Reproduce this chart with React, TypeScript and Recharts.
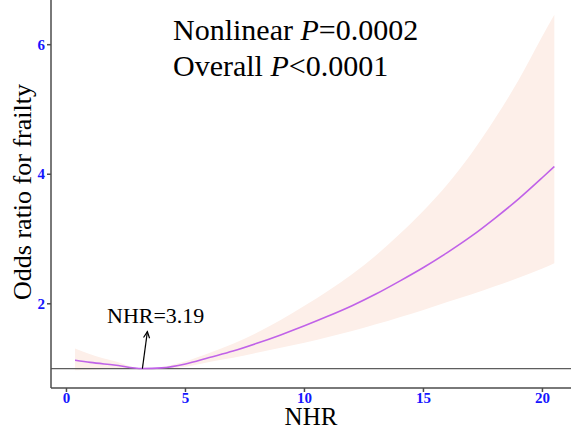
import React from "react";
import { ComposedChart, Area, Line, XAxis, YAxis, ReferenceLine } from "recharts";

// values
const nhr = [0.36, 1, 2, 3.19, 4, 5, 6, 7, 8, 9, 10, 11, 12, 13, 14, 15, 16, 17, 18, 19, 20, 20.5];
const oddsRatio = [1.13, 1.095, 1.055, 1.0, 1.01, 1.07, 1.17, 1.27, 1.39, 1.52, 1.66, 1.81, 1.97, 2.15, 2.35, 2.56, 2.79, 3.04, 3.32, 3.62, 3.95, 4.12];
const lowerCI = [0.973, 0.981, 0.999, 1.0, 0.995, 1.028, 1.102, 1.167, 1.245, 1.321, 1.4, 1.489, 1.581, 1.683, 1.794, 1.906, 2.026, 2.142, 2.27, 2.402, 2.544, 2.627];
const upperCI = [1.31, 1.222, 1.115, 1.0, 1.025, 1.114, 1.242, 1.383, 1.552, 1.749, 1.968, 2.2, 2.455, 2.747, 3.078, 3.438, 3.842, 4.314, 4.855, 5.455, 6.133, 6.462];
const xTicks = [0, 5, 10, 15, 20];
const yTicks = [2, 4, 6];
const refNhr = 3.19;
const arrowTip = { x: 3.4, y: 1.57 };

const data = nhr.map((x, i) => ({ nhr: x, or: oddsRatio[i], ci: [lowerCI[i], upperCI[i]] }));

const SERIF = '"Liberation Serif", "Times New Roman", serif';
const TICK_BLUE = "#1515ff";

function XTick(props: any) {
  const { x, y, payload } = props;
  return (
    <text x={x} y={y} dy={9} textAnchor="middle" fill={TICK_BLUE} fontSize={15} fontWeight={700} fontFamily={SERIF}>
      {payload.value}
    </text>
  );
}

function YTick(props: any) {
  const { x, y, payload } = props;
  return (
    <text x={x} y={y} dy={5} textAnchor="end" fill={TICK_BLUE} fontSize={15} fontWeight={700} fontFamily={SERIF}>
      {payload.value}
    </text>
  );
}

function Arrow(props: any) {
  const { x1, y1, x2, y2 } = props;
  const ang = Math.atan2(y2 - y1, x2 - x1);
  const len = 7;
  const spread = 0.45;
  const hx1 = x2 - len * Math.cos(ang - spread);
  const hy1 = y2 - len * Math.sin(ang - spread);
  const hx2 = x2 - len * Math.cos(ang + spread);
  const hy2 = y2 - len * Math.sin(ang + spread);
  return (
    <g stroke="#000" strokeWidth={1.2} fill="none">
      <line x1={x1} y1={y1} x2={x2} y2={y2} />
      <polyline points={`${hx1},${hy1} ${x2},${y2} ${hx2},${hy2}`} />
    </g>
  );
}

export default function App() {
  return (
    <div style={{ position: "absolute", left: 0, top: 0, width: 571, height: 428, overflow: "hidden", background: "#fff", fontFamily: SERIF }}>
      <ComposedChart width={571} height={428} data={data} margin={{ top: 0, right: 0, bottom: 0, left: 0 }}>
        <XAxis
          dataKey="nhr"
          type="number"
          domain={[-0.65, 21.2]}
          ticks={xTicks}
          allowDataOverflow
          height={40}
          stroke="#4d4d4d"
          strokeWidth={1.5}
          tickSize={4}
          tick={<XTick />}
        />
        <YAxis
          type="number"
          domain={[0.7, 6.69]}
          ticks={yTicks}
          allowDataOverflow
          width={51}
          stroke="#4d4d4d"
          strokeWidth={1.5}
          tickSize={4}
          tick={<YTick />}
        />
        <Area dataKey="ci" type="monotone" stroke="none" fill="#fdefe9" fillOpacity={1} isAnimationActive={false} />
        <ReferenceLine y={1} stroke="#5e5e5e" strokeWidth={1.3} />
        <Line dataKey="or" type="monotone" stroke="#c062e8" strokeWidth={1.6} dot={false} isAnimationActive={false} />
        <ReferenceLine
          segment={[{ x: refNhr, y: 1 }, arrowTip]}
          shape={(p: any) => <Arrow {...p} />}
        />
      </ComposedChart>
      <div style={{ position: "absolute", left: 173, top: 12, fontSize: 30, lineHeight: "36px", color: "#000", whiteSpace: "nowrap" }}>
        <div>Nonlinear <i>P</i>=0.0002</div>
        <div>Overall <i>P</i>&lt;0.0001</div>
      </div>
      <div style={{ position: "absolute", left: 107, top: 303, fontSize: 22, color: "#000", whiteSpace: "nowrap" }}>NHR=3.19</div>
      <div style={{ position: "absolute", left: 311, top: 407, transform: "translateX(-50%)", fontSize: 25, lineHeight: "20px", color: "#000", whiteSpace: "nowrap" }}>NHR</div>
      <div style={{ position: "absolute", left: 23, top: 192, transform: "translate(-50%, -50%) rotate(-90deg)", fontSize: 26, lineHeight: "26px", color: "#000", whiteSpace: "nowrap" }}>Odds ratio for frailty</div>
    </div>
  );
}
